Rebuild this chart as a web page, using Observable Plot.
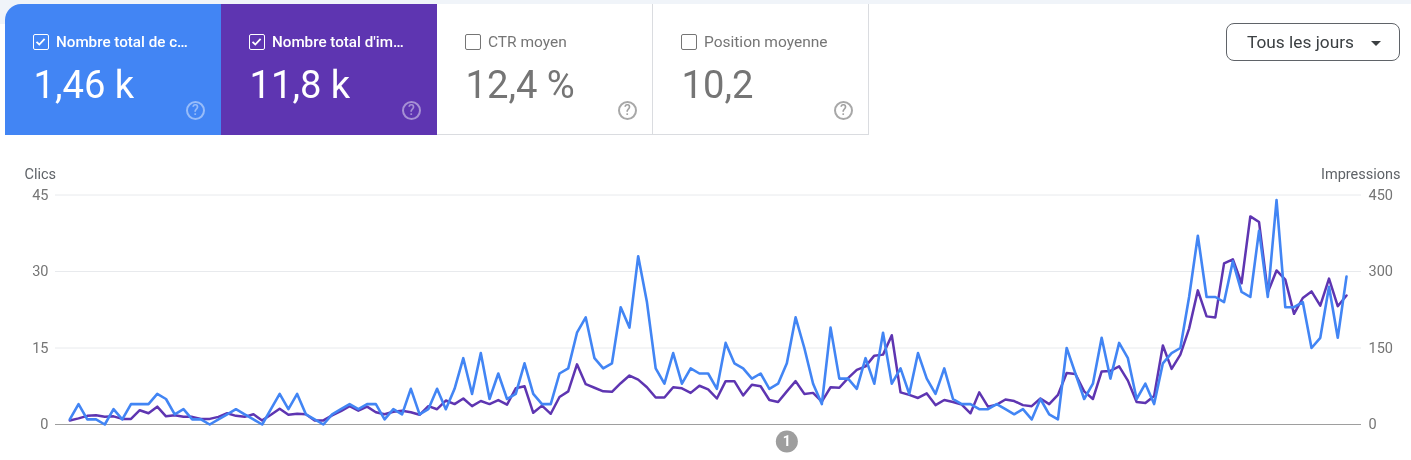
<!DOCTYPE html>
<html lang="fr">
<head>
<meta charset="utf-8">
<script src="https://cdn.jsdelivr.net/npm/d3@7"></script>
<script src="https://cdn.jsdelivr.net/npm/@observablehq/plot@0.6"></script>
<style>
  html,body{margin:0;padding:0;background:#fff;font-family:Roboto,sans-serif;}
  #page{position:relative;width:1411px;height:460px;overflow:hidden;background:#fff;}
  #strip{position:absolute;left:0;top:0;width:1411px;height:4px;background:#f0f4f9;}
  #corner{position:absolute;left:0;top:0;width:24px;height:24px;background:#f0f4f9;}
  #sheet{position:absolute;left:5px;top:4px;width:1406px;height:132px;background:#fff;border-radius:16px 0 0 0;}
  .card{position:absolute;top:4px;height:131px;width:216px;box-sizing:border-box;will-change:transform;}
  .card.first{border-top-left-radius:16px;}
  .card.off{background:#fff;border-bottom:1px solid #dadce0;border-right:1px solid #dadce0;}
  .box{position:absolute;left:28px;top:30px;width:16px;height:16px;box-sizing:border-box;border:1.5px solid #fff;border-radius:2px;}
  .off .box{border-color:#757575;}
  .box svg{position:absolute;left:0;top:0;}
  .lab{position:absolute;left:51px;top:27.5px;font-size:15.2px;line-height:20px;white-space:nowrap;font-weight:500;color:#fff;}
  .off .lab{font-size:15.5px;font-weight:400;color:#757575;}
  .val{position:absolute;left:28.5px;top:59px;font-size:38.2px;line-height:44px;white-space:nowrap;color:#fff;}
  .off .val{color:#757575;}
  .q{position:absolute;left:181px;top:96.5px;width:19px;height:19px;box-sizing:border-box;border:2px solid rgba(255,255,255,.45);border-radius:50%;font-size:14px;line-height:15px;font-weight:500;text-align:center;color:rgba(255,255,255,.45);}
  .off .q{border-color:#a8a8a8;color:#a0a0a0;}
  #drop{position:absolute;left:1226px;top:23px;width:174px;height:38px;box-sizing:border-box;border:1px solid #5f6368;border-radius:8px;background:#fff;will-change:transform;}
  #drop span{position:absolute;left:20px;top:8px;font-size:17.3px;line-height:20px;font-weight:400;color:#3c4043;white-space:nowrap;}
  #drop i{position:absolute;left:144px;top:17px;width:0;height:0;border-left:5px solid transparent;border-right:5px solid transparent;border-top:5px solid #3c4043;}
  #chart{position:absolute;left:0;top:136px;will-change:transform;}
  #chart svg{display:block;}
</style>
</head>
<body>
<div id="page">
  <div id="strip"></div>
  <div id="corner"></div>
  <div id="sheet"></div>
  <div id="cards"></div>
  <div id="drop"><span>Tous les jours</span><i></i></div>
  <div id="chart"></div>
</div>
<script>
const clicks = [1,4,1,1,0,3,1,4,4,4,6,5,2,3,1,1,0,1,2,3,2,1,0,3,6,3,6,2,1,0,2,3,4,3,4,4,1,3,2,7,2,3,7,3,7,13,6,14,5,10,5,6,12,6,4,4,10,11,18,21,13,11,12,23,19,33,24,11,8,14,8,11,10,10,7,16,12,11,9,10,7,8,12,21,15,8,4,19,9,9,7,13,8,18,8,11,6,14,9,6,11,5,4,4,3,3,4,3,2,3,1,5,2,1,15,10,5,8,17,9,16,13,5,8,4,12,14,15,25,37,25,25,24,32,26,25,38,25,44,23,23,24,15,17,27,17,29];
const impressions = [8,12,17,18,15,16,11,11,28,22,35,16,18,15,15,11,11,15,22,17,15,20,8,19,31,19,21,20,8,8,18,26,36,27,35,24,20,25,27,24,19,36,30,47,40,51,36,46,40,48,39,71,75,23,37,21,54,65,118,79,72,65,64,81,96,88,73,53,53,73,71,62,76,69,51,85,85,57,78,75,48,44,65,85,60,62,45,73,72,91,107,114,135,137,175,63,58,52,61,38,48,44,39,22,63,35,39,49,46,38,36,51,40,58,101,99,65,50,104,105,114,86,44,42,56,155,109,137,188,263,212,210,316,324,277,408,397,259,302,284,217,248,261,233,286,232,253];
const clickTicks = [0,15,30,45];
const annotationDay = [82];
const annotationLabels = ["1"];
const cardLabels = ["Nombre total de c…","Nombre total d'im…","CTR moyen","Position moyenne"];
const cardValues = ["1,46 k","11,8 k","12,4 %","10,2"];
const cardChecked = [true,true,false,false];
const cardColors = ["#4285f4","#5e35b1",null,null];
const cardLefts = [5,221,437,653];

const cardsEl = document.getElementById("cards");
cardLabels.forEach((label,i)=>{
  const c = document.createElement("div");
  c.className = "card" + (cardChecked[i] ? "" : " off") + (i===0 ? " first" : "");
  c.style.left = cardLefts[i]+"px";
  if (cardColors[i]) c.style.background = cardColors[i];
  const check = cardChecked[i] ? '<svg width="13" height="13" viewBox="0 0 13 13"><path d="M2.5 6.8 5.3 9.5 10.6 3.8" fill="none" stroke="#fff" stroke-width="1.8"/></svg>' : "";
  c.innerHTML = `<div class="box">${check}</div><div class="lab">${label}</div><div class="val">${cardValues[i]}</div><div class="q">?</div>`;
  cardsEl.appendChild(c);
});

const days = clicks.map((_,i)=>i);
const axisFont = "Roboto, sans-serif";
const chart = Plot.plot({
  width: 1411,
  height: 324,
  marginLeft: 55,
  marginRight: 50,
  marginTop: 58.5,
  marginBottom: 36,
  style: {fontFamily: axisFont, background: "transparent", overflow: "visible"},
  x: {domain: [0, clicks.length-1], range: [69.3, 1346], axis: null},
  y: {domain: [0, 45], axis: null},
  marks: [
    Plot.ruleY(clickTicks.slice(1), {stroke:"#e8eaed", strokeWidth:1}),
    Plot.ruleY([0], {stroke:"#9e9e9e", strokeWidth:1.2}),
    Plot.axisY(clickTicks, {anchor:"left", tickSize:0, tickPadding:7, label:null, fontSize:14.5, color:"#757575", tickFormat:d=>d}),
    Plot.axisY(clickTicks, {anchor:"right", tickSize:0, tickPadding:7, label:null, fontSize:14.5, color:"#757575", tickFormat:d=>d*10}),
    Plot.line(days, {x:d=>d, y:d=>impressions[d]/10, stroke:"#5e35b1", strokeWidth:2.5, curve:"linear"}),
    Plot.line(days, {x:d=>d, y:d=>clicks[d], stroke:"#4285f4", strokeWidth:2.6, curve:"linear"}),
    Plot.text(["Clics"], {frameAnchor:"top-left", dx:-31, dy:-26.5, textAnchor:"start", fontSize:14.5, fill:"#5f6368", text:d=>d}),
    Plot.text(["Impressions"], {frameAnchor:"top-right", dx:39, dy:-26.5, textAnchor:"end", fontSize:14.5, fill:"#5f6368", text:d=>d}),
    Plot.dot(annotationDay, {x:d=>d, frameAnchor:"bottom", dy:17, r:11, fill:"#9e9e9e", stroke:null}),
    Plot.text(annotationLabels, {x:()=>annotationDay[0], frameAnchor:"bottom", lineAnchor:"middle", dy:17, text:d=>d, fill:"#fff", fontSize:14, fontWeight:700})
  ]
});
document.getElementById("chart").appendChild(chart);
</script>
</body>
</html>
